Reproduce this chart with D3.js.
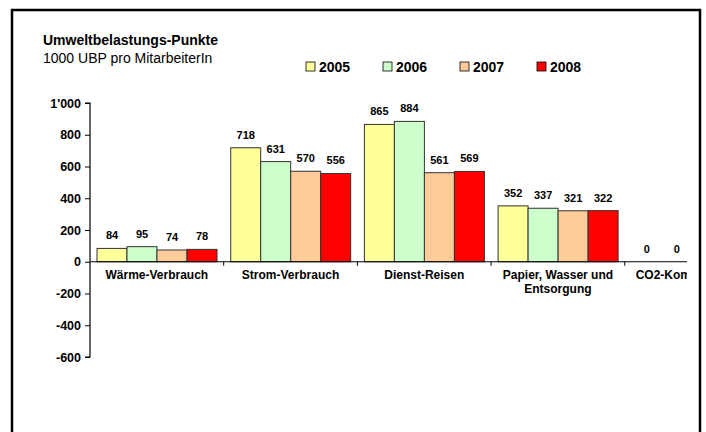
<!DOCTYPE html>
<html>
<head>
<meta charset="utf-8">
<script src="https://cdn.jsdelivr.net/npm/d3@7"></script>
<style>
  body { margin: 0; background: #fff; }
  svg { font-family: "Liberation Sans", Arial, sans-serif; }
</style>
</head>
<body>
<svg id="chart" width="706" height="432"></svg>
<script>
var categories = ["Wärme-Verbrauch", "Strom-Verbrauch", "Dienst-Reisen", "Papier, Wasser und Entsorgung", "CO2-Kompensation"];
var years = ["2005", "2006", "2007", "2008"];
var v2005 = [84, 718, 865, 352, 0];
var v2006 = [95, 631, 884, 337, 0];
var v2007 = [74, 570, 561, 321, 0];
var v2008 = [78, 556, 569, 322, 0];
var yTicks = [-600, -400, -200, 0, 200, 400, 600, 800, 1000];
var colors = ["#ffff99", "#ccffcc", "#ffcc99", "#ff0000"];

var series = [v2005, v2006, v2007, v2008];
var rows = categories.map(function(c, i) {
  return { cat: c, vals: series.map(function(s) { return s[i]; }) };
});

var svg = d3.select("#chart");
var plotRight = 687;

// outer frame (runs below the picture)
svg.append("rect")
  .attr("x", 12).attr("y", 10)
  .attr("width", 688).attr("height", 440)
  .attr("fill", "none").attr("stroke", "#000").attr("stroke-width", 2.5);

svg.append("text").attr("x", 43).attr("y", 45)
  .style("font-size", "14px").style("font-weight", "bold")
  .text("Umweltbelastungs-Punkte");
svg.append("text").attr("x", 43).attr("y", 63)
  .style("font-size", "14px")
  .text("1000 UBP pro MitarbeiterIn");

// legend
var leg = svg.selectAll("g.leg").data(years).enter().append("g")
  .attr("class", "leg")
  .attr("transform", function(d, i) { return "translate(" + (306 + i * 77) + ",62)"; });
leg.append("rect").attr("width", 9).attr("height", 9)
  .attr("fill", function(d, i) { return colors[i]; })
  .attr("stroke", "#000").attr("stroke-width", 0.8);
leg.append("text").attr("x", 13).attr("y", 9.5)
  .style("font-size", "14px").style("font-weight", "bold")
  .text(function(d) { return d; });

var y = d3.scaleLinear().domain([-600, 1000]).range([357, 103]);
var x0 = d3.scaleBand().domain(categories).range([90, 90 + 5 * 133.7]);
var x1 = d3.scaleBand().domain(years).range([7, 127]);

svg.append("clipPath").attr("id", "plotclip")
  .append("rect").attr("x", 0).attr("y", 0).attr("width", plotRight).attr("height", 432);

var plot = svg.append("g").attr("clip-path", "url(#plotclip)");

var groups = plot.selectAll("g.cat").data(rows).enter().append("g")
  .attr("class", "cat")
  .attr("transform", function(d) { return "translate(" + x0(d.cat) + ",0)"; });

groups.selectAll("rect").data(function(d) { return d.vals; }).enter().append("rect")
  .attr("x", function(d, i) { return x1(years[i]); })
  .attr("width", x1.bandwidth())
  .attr("y", function(d) { return y(Math.max(0, d)); })
  .attr("height", function(d) { return Math.abs(y(d) - y(0)); })
  .attr("fill", function(d, i) { return colors[i]; })
  .attr("stroke", "#333").attr("stroke-width", 1);

// value labels, only those inside the visible plot area
groups.each(function(row) {
  var g = d3.select(this);
  var left = x0(row.cat);
  row.vals.forEach(function(v, i) {
    var cx = x1(years[i]) + x1.bandwidth() / 2;
    if (left + cx + 5 > plotRight) return;
    g.append("text")
      .attr("x", cx)
      .attr("y", y(v) - 9)
      .attr("text-anchor", "middle")
      .style("font-size", "11px").style("font-weight", "bold")
      .text(v);
  });
});

// category labels (wrapped like the original)
var labelLines = {
  "Papier, Wasser und Entsorgung": ["Papier, Wasser und", "Entsorgung"]
};
groups.append("text")
  .attr("x", x0.bandwidth() / 2)
  .attr("y", 278.5)
  .attr("text-anchor", "middle")
  .style("font-size", "12px").style("font-weight", "bold")
  .each(function(d) {
    var lines = labelLines[d.cat] || [d.cat];
    var t = d3.select(this);
    lines.forEach(function(l, i) {
      t.append("tspan").attr("x", x0.bandwidth() / 2).attr("dy", i ? 14.8 : 0).text(l);
    });
  });

// x axis line with ticks between categories
var xAxis = plot.append("g").attr("transform", "translate(0," + y(0) + ")");
xAxis.append("line").attr("x1", 90).attr("x2", plotRight)
  .attr("stroke", "#000").attr("stroke-width", 1.2);
xAxis.selectAll("line.tk").data(categories.slice(1)).enter().append("line")
  .attr("class", "tk")
  .attr("x1", function(d) { return x0(d); }).attr("x2", function(d) { return x0(d); })
  .attr("y1", 0).attr("y2", 4)
  .attr("stroke", "#000").attr("stroke-width", 1);

// y axis
var fmt = d3.formatLocale({ decimal: ".", thousands: "'", grouping: [3], currency: ["", ""], minus: "-" }).format(",");
var yAxis = svg.append("g").attr("transform", "translate(90,0)")
  .call(d3.axisLeft(y).tickValues(yTicks).tickSize(5).tickPadding(4).tickFormat(fmt));
yAxis.select(".domain").attr("stroke", "#000").attr("stroke-width", 1.2)
  .attr("d", "M-5," + y(1000) + "H0V" + y(-600) + "H-5");
yAxis.selectAll(".tick line").attr("stroke", "#000");
yAxis.selectAll(".tick text")
  .style("font-family", "'Liberation Sans', Arial, sans-serif")
  .style("font-size", "12.5px").style("font-weight", "bold").attr("fill", "#000");
</script>
</body>
</html>
